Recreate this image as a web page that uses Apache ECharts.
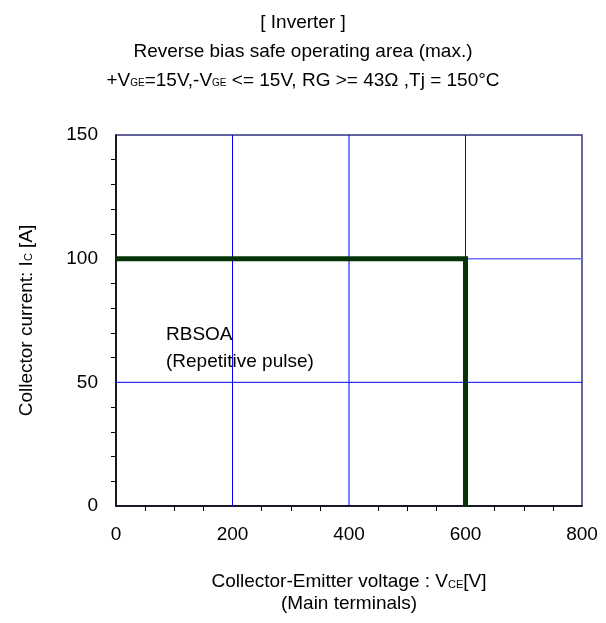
<!DOCTYPE html>
<html>
<head>
<meta charset="utf-8">
<script src="https://cdn.jsdelivr.net/npm/echarts@6/dist/echarts.min.js"></script>
<style>html,body{margin:0;padding:0;background:#fff}#c{width:606px;height:623px}</style>
</head>
<body>
<div id="c"></div>
<script>
var xTicks = [0, 200, 400, 600, 800];
var yTicks = [0, 50, 100, 150];
var rbsoaX = [0, 600, 600];
var rbsoaY = [100, 100, 0];
var vGridX = [200, 400, 600];
var gridLine50X = [0, 800];
var gridLine50Y = [50, 50];
var partialLine100X = [600, 800];
var partialLine100Y = [100, 100];

var F = 'Liberation Sans, Arial, Helvetica, sans-serif';
var FS = 19;
var chart = echarts.init(document.getElementById('c'));

function pts(xs, ys) { return xs.map(function (x, i) { return [x, ys[i]]; }); }

var vSeries = vGridX.map(function (x) {
  return {
    type: 'line', silent: true, symbol: 'none', data: [[x, 0], [x, 150]], z: 1,
    lineStyle: { color: '#0000ff', width: 1 }
  };
});

chart.setOption({
  backgroundColor: '#fff',
  animation: false,
  title: {
    left: 'center',
    top: 3,
    text: '[ Inverter ]\nReverse bias safe operating area (max.)\n+V{s|GE}=15V,-V{s|GE} <= 15V, RG >= 43Ω ,Tj = 150°C',
    textStyle: {
      fontFamily: F, fontSize: FS, fontWeight: 'normal', color: '#000', lineHeight: 29,
      rich: { s: { fontFamily: F, fontSize: 10, color: '#000', padding: [6, 0, 0, 0], lineHeight: 29 } }
    }
  },
  grid: {
    left: 116, right: 24, top: 135, bottom: 117,
    show: true, borderColor: '#33337f', borderWidth: 1.5, backgroundColor: 'transparent'
  },
  xAxis: {
    type: 'value', min: 0, max: 800, interval: 200,
    axisLine: { show: true, onZero: false, lineStyle: { color: '#000', width: 1.5 } },
    axisTick: { show: false },
    minorTick: { show: true, splitNumber: 4, length: 5, lineStyle: { color: '#000', width: 1 } },
    splitLine: { show: false },
    axisLabel: { fontFamily: F, fontSize: FS, color: '#000', margin: 19 },
    name: 'Collector-Emitter voltage : V{s|CE}[V]\n(Main terminals)',
    nameLocation: 'middle', nameGap: 65,
    nameTextStyle: {
      fontFamily: F, fontSize: FS, color: '#000', lineHeight: 22,
      rich: { s: { fontFamily: F, fontSize: 11, color: '#000', padding: [5, 0, 0, 0], lineHeight: 22 } }
    }
  },
  yAxis: {
    type: 'value', min: 0, max: 150, interval: 50,
    axisLine: { show: true, onZero: false, lineStyle: { color: '#000', width: 1.5 } },
    axisTick: { show: false },
    minorTick: { show: true, splitNumber: 5, length: 5, lineStyle: { color: '#000', width: 1 } },
    splitLine: { show: false },
    axisLabel: { fontFamily: F, fontSize: FS, color: '#000', margin: 18 },
    name: 'Collector current: I{s|C} [A]',
    nameLocation: 'middle', nameGap: 80,
    nameTextStyle: {
      fontFamily: F, fontSize: FS, color: '#000',
      rich: { s: { fontFamily: F, fontSize: 11, color: '#000', padding: [5, 0, 0, 0] } }
    }
  },
  series: vSeries.concat([
    {
      type: 'line', silent: true, symbol: 'none', data: pts(gridLine50X, gridLine50Y), z: 1,
      lineStyle: { color: '#0000ff', width: 1 }
    },
    {
      type: 'line', silent: true, symbol: 'none', data: pts(partialLine100X, partialLine100Y), z: 1,
      lineStyle: { color: '#7070ff', width: 1.5 }
    },
    {
      type: 'line', silent: true, symbol: 'none', data: pts(rbsoaX, rbsoaY), z: 5,
      lineStyle: { color: '#063306', width: 5, join: 'miter', cap: 'butt' }
    }
  ]),
  graphic: [
    {
      type: 'text', left: 166, top: 321,
      style: { text: 'RBSOA\n(Repetitive pulse)', fontFamily: F, fontSize: FS, fill: '#000', lineHeight: 27 }
    }
  ]
});
</script>
</body>
</html>
